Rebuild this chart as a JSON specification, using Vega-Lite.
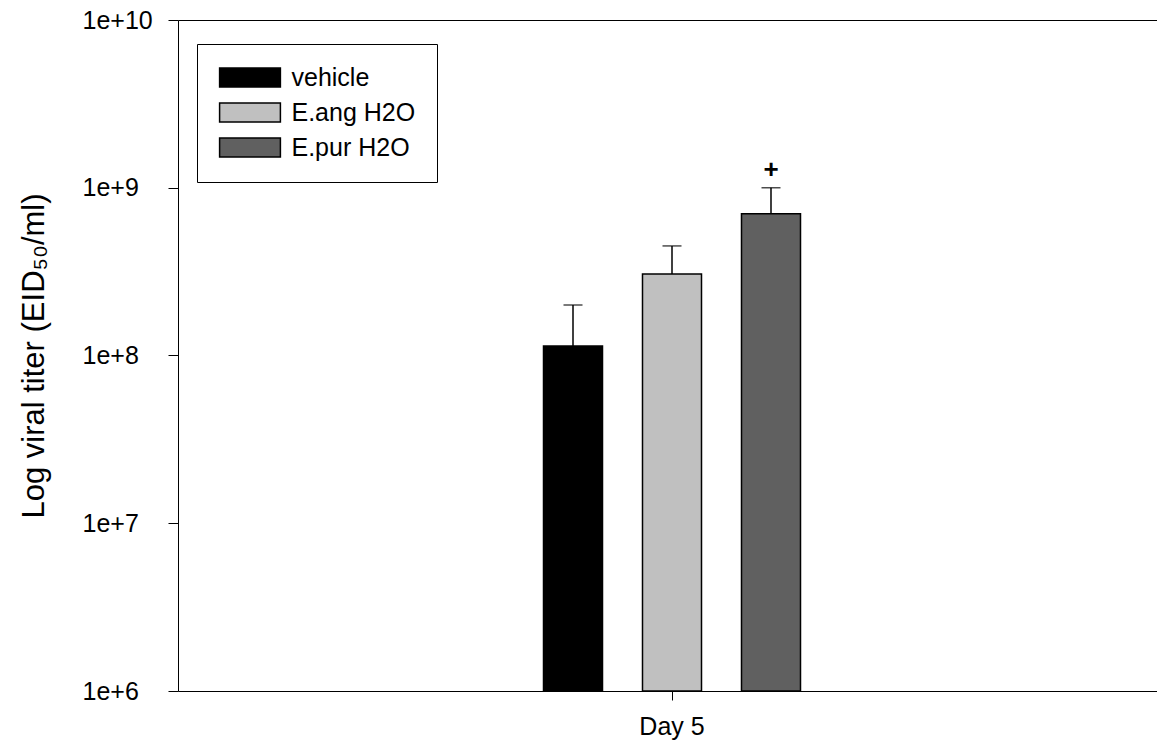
{
  "$schema": "https://vega.github.io/schema/vega-lite/v6.json",
  "width": 988,
  "height": 671,
  "autosize": {"type": "none"},
  "padding": {"left": 178, "top": 20, "right": 0, "bottom": 57},
  "background": "white",
  "config": {
    "font": "Liberation Sans",
    "view": {"stroke": "black", "strokeWidth": 1},
    "axis": {"domainColor": "black", "tickColor": "black", "labelColor": "black", "titleColor": "black", "grid": false, "domainWidth": 1, "tickWidth": 1},
    "legend": {"titleColor": "black", "labelColor": "black"}
  },
  "data": {
    "values": [
      {"day": "Day 5", "group": "vehicle", "value": 114000000, "upper": 200000000, "sig": ""},
      {"day": "Day 5", "group": "E.ang H2O", "value": 306000000, "upper": 450000000, "sig": ""},
      {"day": "Day 5", "group": "E.pur H2O", "value": 700000000, "upper": 1000000000, "sig": "+"}
    ]
  },
  "encoding": {
    "x": {
      "field": "day", "type": "nominal",
      "scale": {"paddingInner": 0.1404, "paddingOuter": 1},
      "axis": {"title": null, "labelAngle": 0, "labelFontSize": 25, "tickSize": 9, "labelPadding": 14, "domain": false}
    },
    "xOffset": {
      "field": "group", "type": "nominal",
      "sort": ["vehicle", "E.ang H2O", "E.pur H2O"],
      "scale": {"paddingInner": 0.404, "paddingOuter": 0.202}
    }
  },
  "layer": [
    {
      "mark": {"type": "rule", "color": "black", "strokeWidth": 1.5},
      "encoding": {
        "y": {
          "field": "value", "type": "quantitative",
          "scale": {"type": "log", "domain": [1000000, 10000000000]},
          "axis": {
            "title": "Log viral titer (EID₅₀/ml)",
            "titleFontSize": 31, "titleFontWeight": "normal", "titlePadding": 32,
            "values": [1000000, 10000000, 100000000, 1000000000, 10000000000],
            "labelExpr": "'1e+' + format(log(datum.value)/LN10, '.0f')",
            "labelFontSize": 25, "labelAlign": "left", "tickSize": 10, "labelPadding": 86, "domain": false
          }
        },
        "y2": {"field": "upper"}
      }
    },
    {
      "mark": {"type": "tick", "color": "black", "size": 19, "thickness": 1.5},
      "encoding": {
        "y": {"field": "upper", "type": "quantitative", "title": "Log viral titer (EID₅₀/ml)"}
      }
    },
    {
      "mark": {"type": "bar", "stroke": "black", "strokeWidth": 1.5},
      "encoding": {
        "y": {"field": "value", "type": "quantitative", "title": "Log viral titer (EID₅₀/ml)"},
        "y2": {"datum": 1000000},
        "color": {
          "field": "group", "type": "nominal",
          "sort": ["vehicle", "E.ang H2O", "E.pur H2O"],
          "scale": {"domain": ["vehicle", "E.ang H2O", "E.pur H2O"], "range": ["#000000", "#c0c0c0", "#606060"]},
          "legend": {
            "title": null, "orient": "none", "legendX": 19, "legendY": 24,
            "fillColor": "white", "strokeColor": "black", "padding": 21,
            "symbolType": "M-3.2,-1H3.2V1H-3.2Z", "symbolSize": 361,
            "symbolStrokeColor": "black", "symbolStrokeWidth": 1.5, "symbolOpacity": 1,
            "symbolOffset": 19.5, "labelOffset": 29, "labelFontSize": 25, "rowPadding": 9
          }
        }
      }
    },
    {
      "mark": {"type": "text", "dy": -18, "fontSize": 26, "fontWeight": "bold", "color": "black"},
      "encoding": {
        "y": {"field": "upper", "type": "quantitative", "title": "Log viral titer (EID₅₀/ml)"},
        "text": {"field": "sig"}
      }
    }
  ]
}
